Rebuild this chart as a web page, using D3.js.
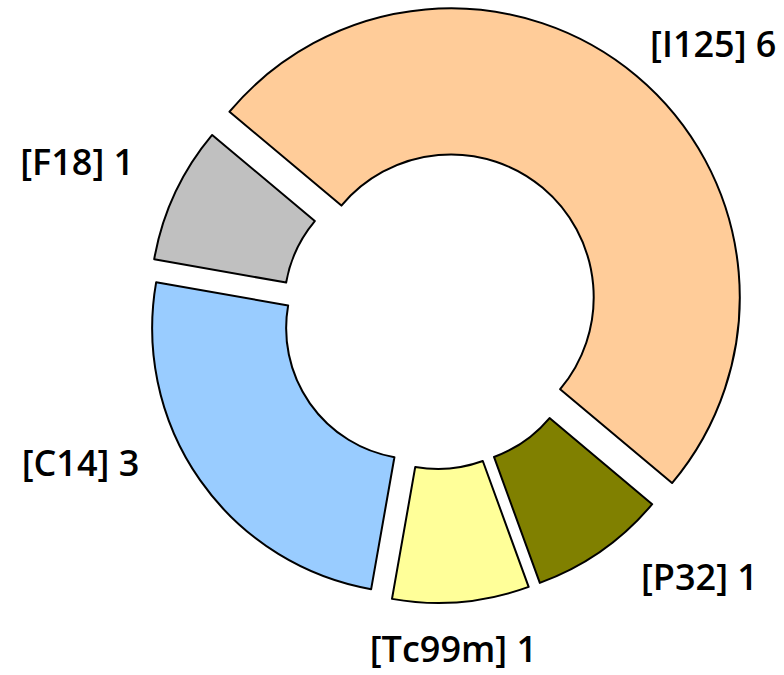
<!DOCTYPE html>
<html>
<head>
<meta charset="utf-8">
<script src="https://cdn.jsdelivr.net/npm/d3@7"></script>
<style>
  html, body { margin: 0; padding: 0; background: #fff; }
  svg { display: block; }
</style>
</head>
<body>
<svg id="chart" width="784" height="675"></svg>
<script>
// ---- data ----
const categories = ["I125", "P32", "Tc99m", "C14", "F18"];
const values = [6, 1, 1, 3, 1];
const colors = ["#FFCC99", "#808000", "#FFFF99", "#99CCFF", "#C0C0C0"];

// ---- layout ----
const W = 784, H = 675;
const cx = 436, cy = 315;
const innerR = 131, outerR = 265;
const bigFactor = 1.09;      // largest slice drawn larger
const explode = 23;
const deg = Math.PI / 180;
const startAngle = -50 * deg;
const labelCy = -6, labelRx = 333, labelRy = 343;
const labelNudge = [0, -3, 2, 8, 0]; // degrees

const svg = d3.select("#chart");
const g = svg.append("g").attr("transform", `translate(${cx},${cy})`);

const data = categories.map((c, i) => ({ name: c, value: values[i], color: colors[i], nudge: labelNudge[i] }));
const maxV = d3.max(values);

const pie = d3.pie().sort(null).value(d => d.value)
  .startAngle(startAngle).endAngle(startAngle + 2 * Math.PI);
const arcs = pie(data);

const arcGen = d3.arc();

g.selectAll("path.slice")
  .data(arcs)
  .join("path")
  .attr("class", "slice")
  .attr("d", d => {
    const f = d.data.value === maxV ? bigFactor : 1;
    return arcGen({ innerRadius: innerR * f, outerRadius: outerR * f, startAngle: d.startAngle, endAngle: d.endAngle });
  })
  .attr("transform", d => {
    const m = (d.startAngle + d.endAngle) / 2;
    return `translate(${explode * Math.sin(m)},${-explode * Math.cos(m)})`;
  })
  .attr("fill", d => d.data.color)
  .attr("stroke", "#000")
  .attr("stroke-width", 2)
  .attr("stroke-linejoin", "round");

g.selectAll("text.label")
  .data(arcs)
  .join("text")
  .attr("class", "label")
  .each(function(d) {
    const m = (d.startAngle + d.endAngle) / 2 + d.data.nudge * deg;
    const s = Math.sin(m), c = Math.cos(m);
    const x = labelRx * s, y = labelCy - labelRy * c;
    const anchor = s > 0.2 ? "start" : (s < -0.2 ? "end" : "middle");
    d3.select(this)
      .attr("x", x).attr("y", y)
      .attr("dy", "0.3em")
      .attr("text-anchor", anchor);
  })
  .attr("font-family", "'Open Sans', 'Noto Sans', sans-serif")
  .attr("font-weight", 600)
  .attr("font-size", 36)
  .attr("fill", "#000")
  .text(d => `[${d.data.name}] ${d.data.value}`);
</script>
</body>
</html>
